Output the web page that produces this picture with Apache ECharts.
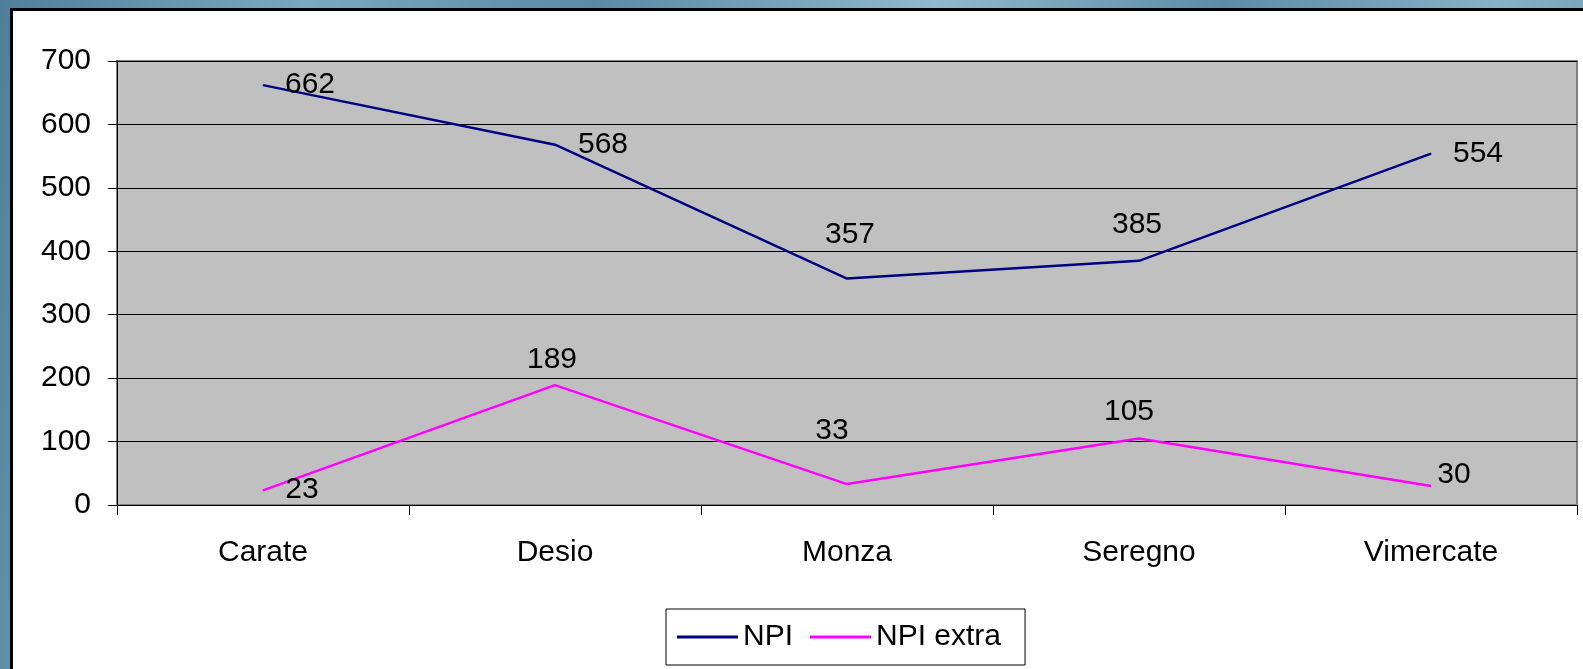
<!DOCTYPE html>
<html>
<head>
<meta charset="utf-8">
<script src="https://cdn.jsdelivr.net/npm/echarts@6/dist/echarts.min.js"></script>
<style>
  html, body { margin: 0; padding: 0; }
  body {
    width: 1583px; height: 669px; overflow: hidden;
    background: linear-gradient(100deg, #4f7f9a 0%, #7aa8bf 18%, #5a8aa5 35%, #8fb9cc 55%, #5d8ca7 72%, #86b2c6 88%, #6b98b0 100%);
  }
  #chart { width: 1583px; height: 669px; }
</style>
</head>
<body>
<div id="chart"></div>
<script>
// ---- data ----
const categories = ['Carate', 'Desio', 'Monza', 'Seregno', 'Vimercate'];
const npi = [662, 568, 357, 385, 554];
const npiExtra = [23, 189, 33, 105, 30];
const yTicks = [0, 100, 200, 300, 400, 500, 600, 700];
const seriesNames = ['NPI', 'NPI extra'];

// ---- styling (label placement as in the original) ----
const npiLabelOffsets = [[47, 0], [48, 0], [3, -44], [-2, -36], [47, 0]];
const extraLabelOffsets = [[39, -1], [-3, -25], [-15, -53], [-10, -27], [23, -11]];

const FONT = 'Liberation Sans, Arial, sans-serif';
const FS = 30;

function buildData(values, offsets) {
  return values.map((v, i) => ({
    value: v,
    label: { offset: offsets[i] }
  }));
}

const chart = echarts.init(document.getElementById('chart'), null, { renderer: 'canvas' });

const labelCfg = {
  show: true,
  position: 'inside',
  color: '#000',
  fontFamily: FONT,
  fontSize: FS
};

chart.setOption({
  backgroundColor: 'transparent',
  animation: false,
  graphic: [{
    type: 'rect',
    z: -10,
    silent: true,
    shape: { x: 11.5, y: 9.5, width: 1700, height: 800 },
    style: { fill: '#ffffff', stroke: '#000000', lineWidth: 3 }
  }],
  grid: {
    left: 117, top: 61, right: 6, bottom: 164,
    show: true,
    backgroundColor: '#c0c0c0',
    borderColor: '#808080',
    borderWidth: 2
  },
  legend: {
    show: true,
    data: seriesNames,
    left: 666,
    top: 609,
    orient: 'horizontal',
    icon: 'rect',
    itemWidth: 61,
    itemHeight: 3,
    itemGap: 17,
    padding: [13, 24, 13, 11],
    backgroundColor: '#ffffff',
    borderColor: '#000000',
    borderWidth: 1,
    borderRadius: 0,
    textStyle: { fontFamily: FONT, fontSize: FS, color: '#000' }
  },
  xAxis: {
    type: 'category',
    data: categories,
    boundaryGap: true,
    axisLine: { show: true, lineStyle: { color: '#000', width: 1 } },
    axisTick: { show: true, length: 10, inside: false, alignWithLabel: false, lineStyle: { color: '#000' } },
    axisLabel: { fontFamily: FONT, fontSize: FS, color: '#000', margin: 33 },
    splitLine: { show: false }
  },
  yAxis: {
    type: 'value',
    min: yTicks[0],
    max: yTicks[yTicks.length - 1],
    interval: yTicks[1] - yTicks[0],
    axisLine: { show: true, lineStyle: { color: '#000', width: 1 } },
    axisTick: { show: true, length: 9, lineStyle: { color: '#000' } },
    axisLabel: { fontFamily: FONT, fontSize: FS, color: '#000', margin: 26 },
    splitLine: { show: true, lineStyle: { color: '#000', width: 1 } }
  },
  series: [
    {
      name: seriesNames[0],
      type: 'line',
      data: buildData(npi, npiLabelOffsets),
      symbol: 'circle',
      symbolSize: 1,
      showSymbol: true,
      itemStyle: { color: '#000080' },
      lineStyle: { color: '#000080', width: 2.5 },
      label: labelCfg,
      z: 3
    },
    {
      name: seriesNames[1],
      type: 'line',
      data: buildData(npiExtra, extraLabelOffsets),
      symbol: 'circle',
      symbolSize: 1,
      showSymbol: true,
      itemStyle: { color: '#ff00ff' },
      lineStyle: { color: '#ff00ff', width: 2.5 },
      label: labelCfg,
      z: 3
    }
  ]
});
</script>
</body>
</html>
